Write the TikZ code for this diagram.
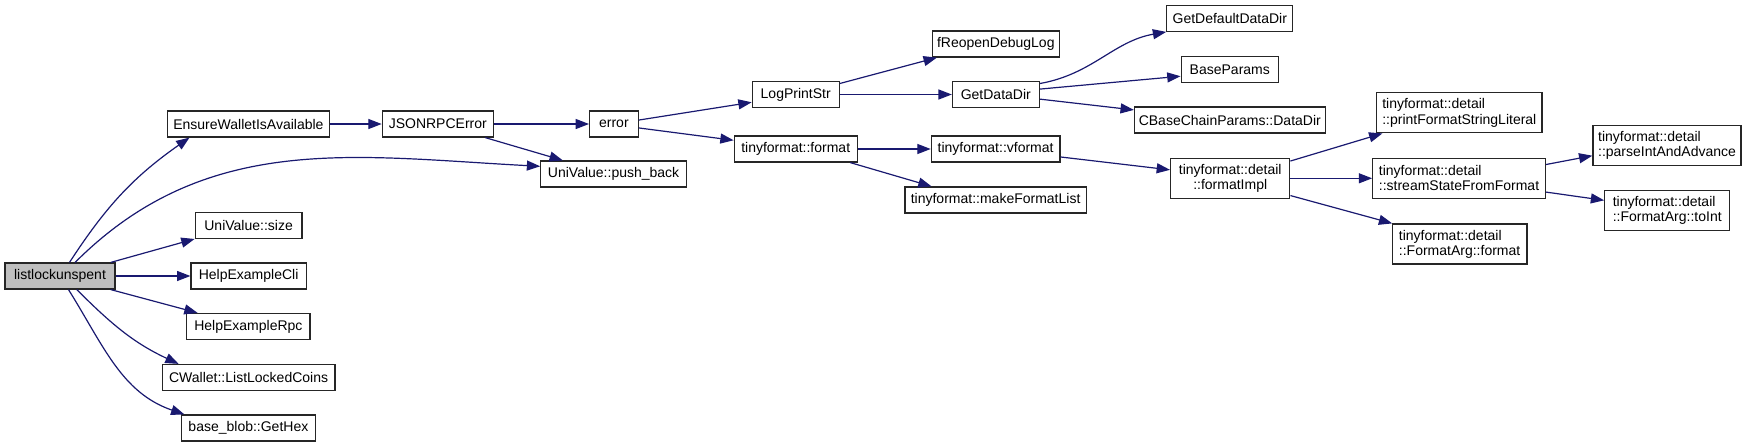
\documentclass[tikz,border=0pt]{standalone}
\usepackage{fontspec}
\setmainfont{Liberation Sans}
\usetikzlibrary{arrows.meta}
\definecolor{edgeblue}{HTML}{191970}

\begin{document}
\begin{tikzpicture}[
    x=0.75pt, y=-0.75pt,
    fn/.style={rectangle, draw=black!85, line width=0.9pt, fill=white,
      minimum width=#1*0.75pt, minimum height=26*0.75pt, inner sep=1pt,
      font=\fontsize{10.5}{11.4}\selectfont},
    fn2/.style={fn=#1, minimum height=40*0.75pt, align=left},
    arr/.style={-{Triangle[length=10pt, width=7.5pt]}, draw=edgeblue, line width=0.9pt}
  ]
  \useasboundingbox (0,0) rectangle (1747,447);

  %% Caller
  \node[fn=110, fill=black!25] (lls) at (60,276) {listlockunspent};

  %% Direct callees
  \node[fn=161.5] (ensure)     at (248.4,124)   {EnsureWalletIsAvailable};
  \node[fn=106.8] (uvsize)     at (248.6,225.5) {UniValue::size};
  \node[fn=115.2] (hecli)      at (248.6,276)   {HelpExampleCli};
  \node[fn=123.2] (herpc)      at (248.4,326.5) {HelpExampleRpc};
  \node[fn=172.6] (listlocked) at (248.6,377.5) {CWallet::ListLockedCoins};
  \node[fn=133.9] (gethex)     at (248.4,428)   {base\_blob::GetHex};

  %% Error path
  \node[fn=111]   (jsonrpc)  at (437.8,124) {JSONRPCError};
  \node[fn=48.6]  (error)    at (613.9,124) {error};
  \node[fn=145.6] (pushback) at (613.6,174) {UniValue::push\_back};

  %% Logging
  \node[fn=86.9]  (logprint)   at (795.7,94.5)  {LogPrintStr};
  \node[fn=122.9] (tfformat)   at (795.7,149)   {tinyformat::format};
  \node[fn=126.6] (freopen)    at (995.8,44)    {fReopenDebugLog};
  \node[fn=86.8]  (getdatadir) at (995.8,94.5)  {GetDataDir};
  \node[fn=128.6] (vformat)    at (995.6,149)   {tinyformat::vformat};
  \node[fn=181.4] (makefmt)    at (995.6,200)   {tinyformat::makeFormatList};

  \node[fn=126]   (getdefault)   at (1229.8,18.3) {GetDefaultDataDir};
  \node[fn=97.3]  (baseparams)   at (1229.8,69.3) {BaseParams};
  \node[fn=190.7] (cbasedatadir) at (1229.8,120)  {CBaseChainParams::DataDir};

  %% tinyformat internals
  \node[fn2=119.2, align=center] (formatimpl) at (1230.2,178.3) {tinyformat::detail\\::formatImpl};
  \node[fn2=165.3] (printlit)    at (1459.3,112.8) {tinyformat::detail\\::printFormatStringLiteral};
  \node[fn2=172.5] (streamstate) at (1459,178.3)   {tinyformat::detail\\::streamStateFromFormat};
  \node[fn2=134.8] (argformat)   at (1459.6,244)   {tinyformat::detail\\::FormatArg::format};
  \node[fn2=148.1] (parseint)    at (1667,145.2)   {tinyformat::detail\\::parseIntAndAdvance};
  \node[fn2=124.9] (toint)       at (1667.2,210.3) {tinyformat::detail\\::FormatArg::toInt};

  %% Calls from listlockunspent
  \draw[arr] (lls.55) to[out=57, in=-145] (ensure.193);
  \draw[arr] (lls.42) to[out=45, in=177] (pushback.174);
  \draw[arr] (lls.15) -- (uvsize.194);
  \draw[arr] (lls.east) -- (hecli.west);
  \draw[arr] (lls.-15) -- (herpc.165);
  \draw[arr] (lls.-39) to[out=-45, in=155] (listlocked.169);
  \draw[arr] (lls.-58) to[out=-58, in=161] (gethex.168);

  %% Error path
  \draw[arr] (ensure.east) -- (jsonrpc.west);
  \draw[arr] (jsonrpc.east) -- (error.west);
  \draw[arr] (jsonrpc.-16) -- (pushback.165);
  \draw[arr] (error.9) -- (logprint.190);
  \draw[arr] (error.-9) -- (tfformat.172);

  %% Logging
  \draw[arr] (logprint.14) -- (freopen.193);
  \draw[arr] (logprint.east) -- (getdatadir.west);
  \draw[arr] (getdatadir.14) to[out=10, in=190] (getdefault.south west);
  \draw[arr] (getdatadir.7) -- (baseparams.188);
  \draw[arr] (getdatadir.-6) -- (cbasedatadir.174);

  %% Formatting
  \draw[arr] (tfformat.east) -- (vformat.west);
  \draw[arr] (tfformat.-14) -- (makefmt.168);
  \draw[arr] (vformat.-7) -- (formatimpl.172);
  \draw[arr] (formatimpl.16) -- (printlit.195);
  \draw[arr] (formatimpl.east) -- (streamstate.west);
  \draw[arr] (formatimpl.-16) -- (argformat.163);
  \draw[arr] (streamstate.9) -- (parseint.188);
  \draw[arr] (streamstate.-9) -- (toint.171);

\end{tikzpicture}
\end{document}
